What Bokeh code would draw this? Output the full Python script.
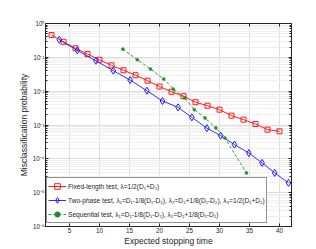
from bokeh.plotting import figure
from bokeh.models import (LinearAxis, LogAxis, FixedTicker, CustomJSTickFormatter,
                          Legend, LegendItem, ColumnDataSource, Range1d)
from bokeh.embed import file_html
from bokeh.resources import INLINE

# ---- data ----
fixed_x = [2, 4, 6, 8, 10, 12, 14, 16, 18, 20, 22, 24, 26, 28, 30, 32, 34, 36, 38, 40]
fixed_y = [0.455, 0.288, 0.185, 0.125, 0.085, 0.058, 0.0416, 0.0296, 0.0204, 0.0137,
           0.0096, 0.0071, 0.00472, 0.00372, 0.00284, 0.00189, 0.00144, 0.00107,
           0.00073, 0.00065]

two_x = [3.3, 6.3, 9.4, 12.3, 15.1, 17.9, 20.5, 23.1, 25.4, 27.9, 30.2, 32.5, 34.9,
         37.1, 39.2, 41.5]
two_y = [0.330, 0.160, 0.0792, 0.0402, 0.0213, 0.0103, 0.00512, 0.00332, 0.00168,
         0.000807, 0.000485, 0.000263, 0.000148, 7.58e-5, 3.84e-5, 1.95e-5]

seq_x = [13.9, 16.3, 18.5, 20.7, 22.3, 24.2, 25.8, 27.6, 29.4, 30.9, 34.5]
seq_y = [0.175, 0.0849, 0.0451, 0.0229, 0.0116, 0.00633, 0.00284, 0.00161,
         0.000818, 0.000415, 3.84e-5]

x_ticks = [5, 10, 15, 20, 25, 30, 35, 40]
y_ticks = [1e-6, 1e-5, 1e-4, 1e-3, 1e-2, 1e-1, 1e0]

labels = [
    "Fixed-length test, \u03bb=1/2(D\u2081+D\u2082)",
    "Two-phase test, \u03bb\u2081=D\u2081-1/8(D\u2081-D\u2082), \u03bb\u2082=D\u2082+1/8(D\u2081-D\u2082), \u03bb\u2083=1/2(D\u2081+D\u2082)",
    "Sequential test, \u03bb\u2081=D\u2081-1/8(D\u2081-D\u2082), \u03bb\u2082=D\u2082+1/8(D\u2081-D\u2082)",
]
x_label = "Expected stopping time"
y_label = "Misclassification probability"

FONT = "Liberation Sans"
AX = "#262626"

p = figure(width=308, height=249, y_axis_type="log",
           x_range=Range1d(1, 42), y_range=Range1d(1e-6, 1),
           output_backend="svg", toolbar_location=None,
           min_border_left=45, min_border_right=17, min_border_top=23,
           min_border_bottom=23)
p.outline_line_color = AX
p.outline_line_width = 1

minor = [k * 10.0 ** e for e in range(-6, 0) for k in range(2, 10)]
yticker = FixedTicker(ticks=y_ticks, minor_ticks=minor)
xticker = FixedTicker(ticks=x_ticks)

sup_fmt = CustomJSTickFormatter(code="""
const sup = {'-':'\u207b','0':'\u2070','1':'\u00b9','2':'\u00b2','3':'\u00b3','4':'\u2074',
             '5':'\u2075','6':'\u2076','7':'\u2077','8':'\u2078','9':'\u2079'};
const e = Math.round(Math.log10(tick));
return '10' + String(e).split('').map(c => sup[c]).join('');
""")
blank = CustomJSTickFormatter(code="return '';")

def style(ax):
    ax.axis_line_color = AX
    ax.major_tick_line_color = AX
    ax.minor_tick_line_color = AX
    ax.major_tick_in = 3
    ax.major_tick_out = 0
    ax.minor_tick_in = 2
    ax.minor_tick_out = 0
    ax.major_label_text_font = FONT
    ax.major_label_text_font_size = "6.3px"
    ax.major_label_text_color = AX
    ax.axis_label_text_font = FONT
    ax.axis_label_text_font_size = "8.5px"
    ax.axis_label_text_font_style = "normal"
    ax.axis_label_text_color = AX

xa = p.xaxis[0]
xa.ticker = xticker
xa.axis_label = x_label
style(xa)
xa.major_label_standoff = 1
xa.axis_label_standoff = 0
xa.minor_tick_in = 0

ya = p.yaxis[0]
ya.ticker = yticker
ya.formatter = sup_fmt
ya.axis_label = y_label
style(ya)
ya.major_label_standoff = 1
ya.axis_label_standoff = 1

top = LinearAxis(ticker=xticker, formatter=blank)
style(top)
top.minor_tick_in = 0
top.major_label_standoff = 0
top.major_label_text_font_size = "1px"
p.add_layout(top, "above")

right = LogAxis(ticker=yticker, formatter=blank)
style(right)
right.major_label_standoff = 0
right.major_label_text_font_size = "1px"
p.add_layout(right, "right")

p.xgrid.ticker = xticker
p.ygrid.ticker = yticker
p.xgrid.grid_line_color = "#dedede"
p.ygrid.grid_line_color = "#dedede"
p.ygrid.minor_grid_line_color = "#efefef"

RED = "#ff1a1a"
BLUE = "#1a1aff"
GREEN = "#1f8f1f"

s1 = ColumnDataSource(dict(x=fixed_x, y=fixed_y))
s2 = ColumnDataSource(dict(x=two_x, y=two_y))
s3 = ColumnDataSource(dict(x=seq_x, y=seq_y))

l1 = p.line("x", "y", source=s1, color=RED, line_width=1)
m1 = p.scatter("x", "y", source=s1, marker="square", size=5, fill_color=None,
               line_color=RED, line_width=1)
l2 = p.line("x", "y", source=s2, color=BLUE, line_width=0.9)
m2 = p.scatter("x", "y", source=s2, marker="diamond", size=7, fill_color=None,
               line_color=BLUE, line_width=1)
l3 = p.line("x", "y", source=s3, color=GREEN, line_width=0.9, line_dash="3 2")
m3 = p.scatter("x", "y", source=s3, marker="circle", size=3, fill_color=GREEN,
               line_color=GREEN, line_width=0.5)

legend = Legend(items=[LegendItem(label=labels[0], renderers=[l1, m1]),
                       LegendItem(label=labels[1], renderers=[l2, m2]),
                       LegendItem(label=labels[2], renderers=[l3, m3])],
                location=(1, 3))
legend.label_text_font = FONT
legend.label_text_font_size = "6.6px"
legend.label_text_color = AX
legend.border_line_color = AX
legend.border_line_width = 1
legend.background_fill_alpha = 1
legend.padding = 1
legend.spacing = 0
legend.margin = 0
legend.glyph_width = 18
legend.glyph_height = 14
legend.label_height = 14
legend.label_standoff = 2
p.add_layout(legend, "center")

open("out.html", "w").write(file_html(p, INLINE))
